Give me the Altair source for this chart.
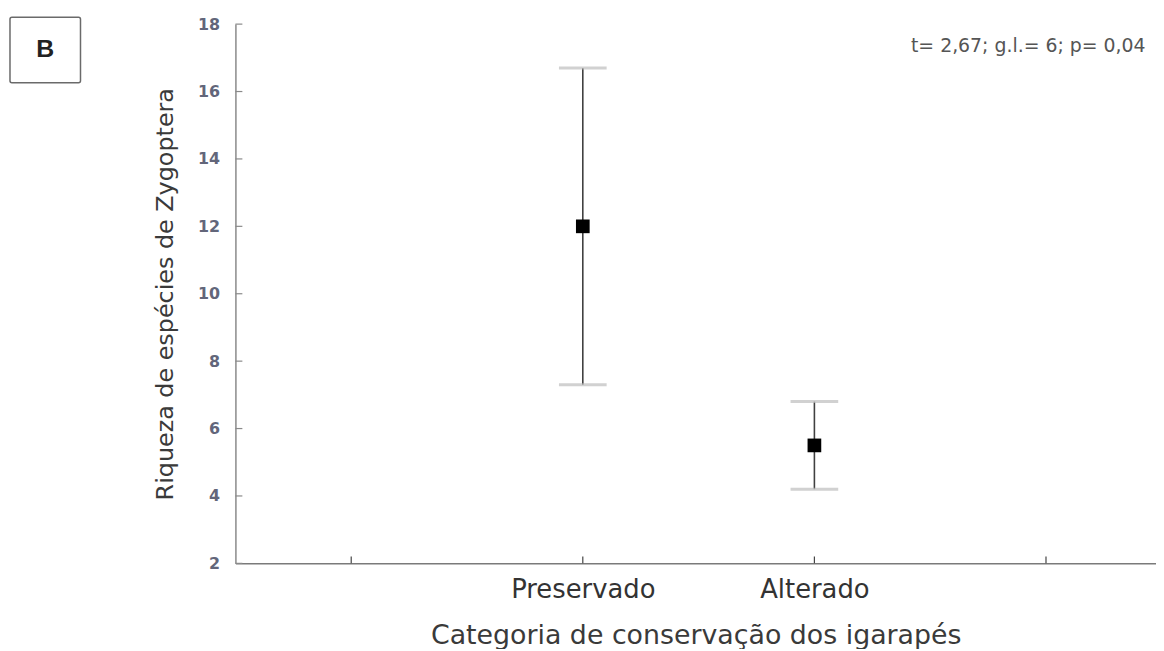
import altair as alt
import pandas as pd

categories = ["Preservado", "Alterado"]
positions = [2, 3]
means = [12.0, 5.5]
upper = [16.7, 6.8]
lower = [7.3, 4.2]
x_ticks = [1, 2, 3, 4]
y_ticks = [2, 4, 6, 8, 10, 12, 14, 16, 18]
stat_text = "t= 2,67; g.l.= 6; p= 0,04"

df = pd.DataFrame({"cat": categories, "pos": positions, "mean": means,
                   "hi": upper, "lo": lower})
xt = pd.DataFrame({"t": x_ticks})
yt = pd.DataFrame({"t": y_ticks})

W, H = 927, 543
FONT = "DejaVu Sans"
xscale = alt.Scale(domain=[0.5, 4.475], nice=False, zero=False)
yscale = alt.Scale(domain=[2, 18], nice=False, zero=False)

label_expr = "datum.value == 2 ? 'Preservado' : (datum.value == 3 ? 'Alterado' : '')"

base = alt.Chart(df)

stem = base.mark_rule(color="#404040", strokeWidth=1.6).encode(
    x=alt.X("pos:Q", scale=xscale,
            axis=alt.Axis(values=x_ticks, labelExpr=label_expr, ticks=False,
                          grid=False, domainColor="#7a7a7a", domainWidth=1.5,
                          labelFont=FONT, labelFontSize=26, labelColor="#333333",
                          labelPadding=13,
                          title="Categoria de conservação dos igarapés",
                          titleFont=FONT, titleFontSize=27, titleFontWeight="normal",
                          titleColor="#3a3a3a", titlePadding=21)),
    y=alt.Y("lo:Q", scale=yscale,
            axis=alt.Axis(values=y_ticks, ticks=False, grid=False,
                          domainColor="#8a8a8a", domainWidth=1.5,
                          labelFont=FONT, labelFontSize=16, labelFontWeight="bold",
                          labelColor="#62667a", labelPadding=16,
                          title="Riqueza de espécies de Zygoptera",
                          titleFont=FONT, titleFontSize=24, titleFontWeight="normal",
                          titleColor="#3a3a3a", titlePadding=20)),
    y2="hi:Q",
)

cap_hi = base.mark_tick(color="#bdbdbd", thickness=3, size=48, orient="horizontal").encode(
    x=alt.X("pos:Q", scale=xscale), y=alt.Y("hi:Q", scale=yscale))
cap_lo = base.mark_tick(color="#bdbdbd", thickness=3, size=48, orient="horizontal").encode(
    x=alt.X("pos:Q", scale=xscale), y=alt.Y("lo:Q", scale=yscale))

pts = base.mark_square(color="black", opacity=1, size=190).encode(
    x=alt.X("pos:Q", scale=xscale), y=alt.Y("mean:Q", scale=yscale))

xtick_marks = alt.Chart(xt).mark_rule(color="#444444", strokeWidth=1.2).encode(
    x=alt.X("t:Q", scale=xscale), y=alt.value(H), y2=alt.value(H - 7))
ytick_marks = alt.Chart(yt).mark_rule(color="#8a8a8a", strokeWidth=1.2).encode(
    y=alt.Y("t:Q", scale=yscale), x=alt.value(0), x2=alt.value(7))

stat = alt.Chart(pd.DataFrame({"x": [4.43], "y": [17.35], "txt": [stat_text]})).mark_text(
    align="right", baseline="middle", font=FONT, fontSize=19, color="#555555").encode(
    x=alt.X("x:Q", scale=xscale), y=alt.Y("y:Q", scale=yscale), text="txt:N")

box = alt.Chart(pd.DataFrame({"a": [0]})).mark_rect(
    fill="white", stroke="#6a6a6a", strokeWidth=1.5, cornerRadius=2).encode(
    x=alt.value(-227), x2=alt.value(-156), y=alt.value(-7), y2=alt.value(59))
box_label = alt.Chart(pd.DataFrame({"txt": ["B"]})).mark_text(
    font="Liberation Sans", fontSize=25, fontWeight="bold", color="#222222",
    align="center", baseline="middle").encode(
    x=alt.value(-191.5), y=alt.value(25), text="txt:N")

chart = alt.layer(stem, cap_hi, cap_lo, pts, xtick_marks, ytick_marks, stat, box, box_label).properties(
    width=W, height=H,
    background="white",
    autosize=alt.AutoSizeParams(type="none"),
    padding={"left": 229, "top": 14, "right": 0, "bottom": 84},
).configure_view(strokeWidth=0)

chart.save("out.html", embed_options={"renderer": "svg", "actions": False})
